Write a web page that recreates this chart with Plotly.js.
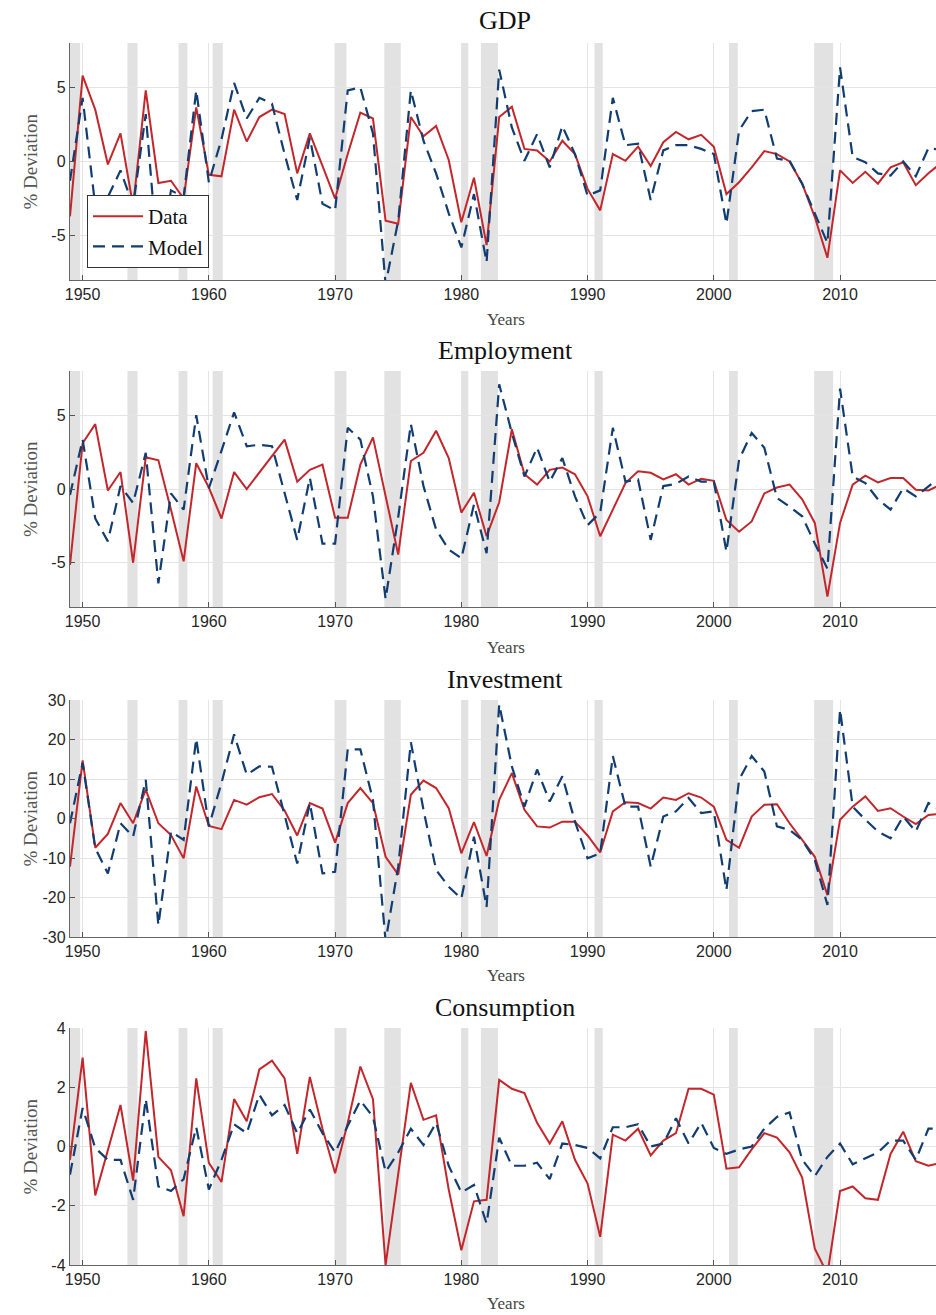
<!DOCTYPE html>
<html>
<head>
<meta charset="utf-8">
<script src="https://cdn.plot.ly/plotly-3.0.1.min.js"></script>
<style>html,body{margin:0;padding:0;background:#fff;}#chart{width:936px;height:1315px;}</style>
</head>
<body>
<div id="chart"></div>
<script>
// ---------- data ----------
const years = [];
for (let y = 1949; y <= 2018; y++) years.push(y);

const panelTitles = ["GDP", "Employment", "Investment", "Consumption"];
const xTickVals = [1950, 1960, 1970, 1980, 1990, 2000, 2010];
const xTickText = ["1950", "1960", "1970", "1980", "1990", "2000", "2010"];

const gdpData = [-3.7,5.8,3.5,-0.2,1.9,-3.0,4.8,-1.45,-1.3,-2.5,3.65,-0.9,-1.0,3.5,1.35,3.0,3.5,3.2,-0.8,1.9,
  -0.3,-2.5,0.5,3.3,2.9,-4.0,-4.2,3.0,1.7,2.4,0.1,-4.1,-1.1,-5.65,3.0,3.7,0.85,0.75,0.0,1.4,
  0.5,-1.85,-3.3,0.5,0.05,1.0,-0.3,1.3,2.0,1.5,1.8,1.0,-2.2,-1.4,-0.4,0.7,0.5,0.0,-1.5,-3.75,
  -6.5,-0.6,-1.45,-0.7,-1.5,-0.4,-0.05,-1.6,-0.8,-0.1];
const gdpModel = [-1.3,4.3,-3.0,-2.4,-0.6,-3.0,3.2,-7.0,-1.95,-2.4,4.8,-1.4,1.5,5.3,2.9,4.3,3.9,0.5,-2.6,1.6,
  -2.85,-3.3,4.8,5.0,1.9,-8.3,-4.0,4.8,1.4,-0.8,-3.5,-5.8,-2.2,-6.8,6.2,2.3,0.05,1.85,-0.4,2.4,
  0.5,-2.3,-1.95,4.3,1.1,1.2,-2.6,0.75,1.1,1.1,0.85,0.5,-4.2,2.1,3.4,3.5,0.2,0.05,-1.5,-3.5,
  -5.5,6.35,0.3,-0.05,-0.8,-0.95,0.0,-1.0,0.9,0.8];

const empData = [-5.15,3.1,4.4,-0.1,1.15,-5.0,2.15,1.95,-1.4,-4.9,1.75,0.1,-2.0,1.15,0.0,1.1,2.2,3.35,0.5,1.3,
  1.65,-1.95,-1.95,1.65,3.5,-0.5,-4.45,1.9,2.45,3.95,2.1,-1.6,-0.25,-3.2,-0.9,4.05,1.0,0.3,1.3,1.45,
  1.0,-0.5,-3.2,-1.4,0.4,1.2,1.1,0.65,1.0,0.3,0.7,0.55,-2.1,-2.9,-2.2,-0.3,0.1,0.3,-0.7,-2.3,
  -7.3,-2.3,0.3,0.9,0.45,0.75,0.75,-0.05,-0.1,0.3];
const empModel = [-0.4,3.35,-2.0,-3.55,0.2,-0.95,2.45,-6.4,-0.3,-1.4,5.0,0.05,2.6,5.2,2.9,3.0,2.9,-0.3,-3.45,0.75,
  -3.7,-3.7,4.15,3.35,-0.5,-7.45,-1.9,4.4,0.2,-2.75,-4.1,-4.7,-1.05,-4.35,7.1,3.8,0.85,2.8,0.5,2.1,
  -0.5,-2.45,-1.6,4.15,0.5,0.65,-3.45,0.2,0.35,0.85,0.5,0.5,-4.25,2.0,3.8,2.8,-0.6,-1.2,-1.85,-3.7,
  -5.4,6.8,0.85,0.4,-0.7,-1.4,0.05,-0.5,0.2,0.85];

const invData = [-12.2,14.7,-7.4,-3.9,3.9,-1.2,7.3,-1.2,-4.2,-10.1,8.1,-1.9,-2.7,4.7,3.5,5.4,6.2,2.0,-4.3,3.9,
  2.5,-6.1,3.9,7.7,3.9,-9.7,-14.2,6.0,9.6,7.7,2.6,-8.8,-0.9,-9.5,4.7,11.5,2.2,-2.0,-2.3,-0.8,
  -0.8,-4.3,-8.6,1.8,4.1,3.9,2.5,5.3,4.7,6.4,5.3,3.0,-5.4,-7.4,0.5,3.5,3.6,-1.2,-5.4,-9.7,
  -19.4,-0.3,3.0,5.6,1.9,2.6,0.5,-1.4,0.9,1.2];
const invModel = [-1.2,14.1,-7.5,-13.9,-1.2,-4.6,9.8,-27.0,-3.3,-5.4,20.2,-2.0,9.0,21.3,11.1,13.2,13.1,0.5,-11.4,3.9,
  -13.9,-13.5,17.5,17.5,4.7,-31.0,-12.2,19.3,2.2,-13.0,-17.3,-20.3,-4.6,-22.4,28.9,13.2,3.0,12.4,4.3,10.7,
  -0.8,-10.1,-8.8,15.8,3.0,3.0,-12.2,0.5,1.8,5.2,1.4,1.8,-18.1,9.8,15.8,11.9,-2.0,-2.9,-5.4,-10.5,
  -21.9,27.6,3.0,-0.3,-3.3,-5.0,0.5,-3.3,3.9,2.0];

const consData = [-0.45,3.0,-1.65,-0.1,1.4,-1.15,3.9,-0.35,-0.8,-2.35,2.3,-0.55,-1.2,1.6,0.85,2.6,2.9,2.3,-0.25,2.35,
  0.6,-0.9,0.8,2.7,1.6,-4.0,-1.0,2.15,0.9,1.05,-1.45,-3.5,-1.85,-1.8,2.25,1.95,1.8,0.8,0.1,0.85,
  -0.45,-1.25,-3.05,0.4,0.2,0.6,-0.3,0.2,0.45,1.95,1.95,1.75,-0.75,-0.7,-0.1,0.45,0.3,-0.2,-1.05,-3.45,
  -4.3,-1.5,-1.35,-1.75,-1.8,-0.25,0.5,-0.5,-0.65,-0.55];
const consModel = [-0.95,1.3,-0.05,-0.45,-0.45,-1.8,1.6,-1.35,-1.5,-1.1,0.65,-1.45,-0.45,0.75,0.45,1.75,1.05,1.4,0.45,1.25,
  0.45,-0.2,0.7,1.55,1.0,-0.85,-0.2,0.6,0.05,0.8,-0.65,-1.55,-1.3,-2.6,0.3,-0.65,-0.65,-0.55,-1.1,0.1,
  0.05,-0.05,-0.4,0.65,0.65,0.75,0.0,0.1,0.95,0.1,0.8,-0.05,-0.25,-0.1,0.0,0.6,1.0,1.15,-0.45,-1.0,
  -0.35,0.1,-0.6,-0.4,-0.2,0.2,0.2,-0.45,0.6,0.6];

const recessionStart = [1948.9, 1953.55, 1957.6, 1960.3, 1969.95, 1973.9, 1980.05, 1981.55, 1990.55, 2001.2, 2007.95];
const recessionEnd   = [1949.8, 1954.35, 1958.3, 1961.1, 1970.9, 1975.2, 1980.55, 1982.9, 1991.2, 2001.9, 2009.45];

const yRanges = [[-8, 8], [-8, 8], [-30, 30], [-4, 4]];
const yTickVals = [[-5, 0, 5], [-5, 0, 5], [-30, -20, -10, 0, 10, 20, 30], [-4, -2, 0, 2, 4]];
const yTickText = [["-5", "0", "5"], ["-5", "0", "5"], ["-30", "-20", "-10", "0", "10", "20", "30"], ["-4", "-2", "0", "2", "4"]];

// ---------- layout geometry (pixels) ----------
const W = 936, H = 1315, L = 70;
const plotTop = [43, 371, 700, 1028];
const plotBot = [280, 607, 937, 1265];
const titleY = [20, 350, 679, 1007];
const yearsY = [319, 647, 975, 1303];

const seriesData = [gdpData, empData, invData, consData];
const seriesModel = [gdpModel, empModel, invModel, consModel];

const serif = "Liberation Serif, Times New Roman, serif";
const sans = "Liberation Sans, Arial, Helvetica, sans-serif";
const red = "#c3262b";
const navy = "#123d70";

const traces = [];
const layout = {
  width: W, height: H,
  margin: {l: L, r: 0, t: 0, b: 0},
  paper_bgcolor: "#ffffff",
  plot_bgcolor: "#ffffff",
  showlegend: true,
  legend: {
    x: (87 - L) / (W - L), y: 1 - 195 / H, xanchor: "left", yanchor: "top",
    bgcolor: "#ffffff", bordercolor: "#333333", borderwidth: 1,
    font: {family: serif, size: 21, color: "#111111"},
    itemwidth: 50, tracegroupgap: 0
  },
  shapes: [],
  annotations: []
};

const px2y = p => 1 - p / H;
const px2x = p => (p - L) / (W - L);

for (let k = 0; k < 4; k++) {
  const sfx = k === 0 ? "" : String(k + 1);
  const xa = "xaxis" + sfx, ya = "yaxis" + sfx;
  const xr = "x" + sfx, yr = "y" + sfx;
  layout[xa] = {
    domain: [0, 1], anchor: yr, range: [1949, 2017.6],
    tickvals: xTickVals, ticktext: xTickText,
    ticks: "inside", ticklen: 5, tickcolor: "#555555",
    showline: true, linecolor: "#666666", linewidth: 1.2,
    showgrid: true, gridcolor: "#e4e4e4", gridwidth: 1,
    zeroline: false,
    tickfont: {family: sans, size: 16, color: "#262626"}
  };
  layout[ya] = {
    domain: [px2y(plotBot[k]), px2y(plotTop[k])], anchor: xr,
    range: yRanges[k], tickvals: yTickVals[k], ticktext: yTickText[k],
    ticks: "inside", ticklen: 5, tickcolor: "#555555",
    showline: true, linecolor: "#666666", linewidth: 1.2,
    showgrid: true, gridcolor: "#e4e4e4", gridwidth: 1,
    zeroline: false,
    tickfont: {family: sans, size: 16, color: "#262626"}
  };
  for (let r = 0; r < recessionStart.length; r++) {
    layout.shapes.push({
      type: "rect", xref: xr, yref: yr + " domain",
      x0: recessionStart[r], x1: recessionEnd[r], y0: 0, y1: 1,
      fillcolor: "#e2e2e2", line: {width: 0}, layer: "below"
    });
  }
  traces.push({
    x: years, y: seriesData[k], xaxis: xr, yaxis: yr, type: "scatter", mode: "lines",
    name: "Data", legendgroup: "Data", showlegend: k === 0,
    line: {color: red, width: 2}
  });
  traces.push({
    x: years, y: seriesModel[k], xaxis: xr, yaxis: yr, type: "scatter", mode: "lines",
    name: "Model", legendgroup: "Model", showlegend: k === 0,
    line: {color: navy, width: 2.2, dash: "12px,7px"}
  });
  layout.annotations.push({
    text: panelTitles[k], xref: "paper", yref: "paper",
    x: px2x(505), y: px2y(titleY[k]), xanchor: "center", yanchor: "middle",
    showarrow: false, font: {family: serif, size: 26, color: "#111111"}
  });
  layout.annotations.push({
    text: "Years", xref: "paper", yref: "paper",
    x: px2x(506), y: px2y(yearsY[k]), xanchor: "center", yanchor: "middle",
    showarrow: false, font: {family: serif, size: 17, color: "#444444"}
  });
  layout.annotations.push({
    text: "% Deviation", xref: "paper", yref: "paper", textangle: -90,
    x: px2x(30), y: px2y((plotTop[k] + plotBot[k]) / 2), xanchor: "center", yanchor: "middle",
    showarrow: false, font: {family: serif, size: 19, color: "#555555"}
  });
}

Plotly.newPlot("chart", traces, layout, {staticPlot: true, displayModeBar: false});
</script>
</body>
</html>
